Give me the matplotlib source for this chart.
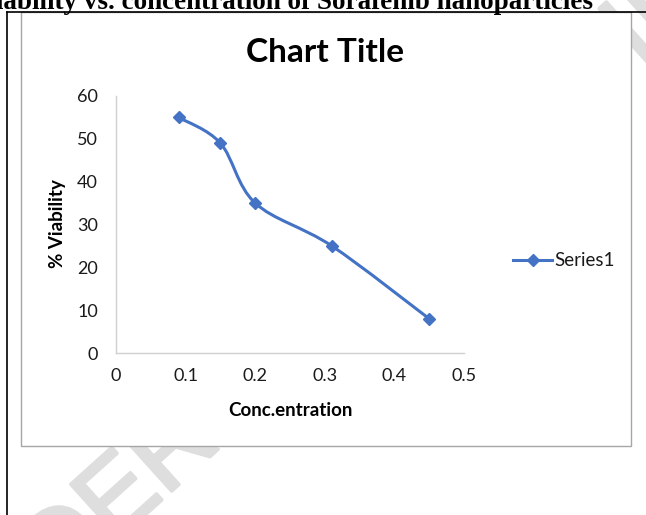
import numpy as np
import matplotlib
matplotlib.use("Agg")
import matplotlib.pyplot as plt
import matplotlib.patheffects as pe
from matplotlib.path import Path
from matplotlib.patches import PathPatch, Rectangle
from matplotlib.lines import Line2D

# data
conc = [0.09, 0.15, 0.20, 0.31, 0.45]
viability = [55, 49, 35, 25, 8]
x_ticks = [0, 0.1, 0.2, 0.3, 0.4, 0.5]
y_ticks = [0, 10, 20, 30, 40, 50, 60]
series_name = "Series1"
chart_title = "Chart Title"
page_caption = "% Viability vs. concentration of Sorafenib nanoparticles"

W, H = 646, 515
blue = "#4472C4"
font = "Lato"


def fx(x):
    return x / W


def fy(y):
    return 1 - y / H


def smooth_path(xs, ys):
    # Excel-like smoothed line: cubic Bezier through each point (Catmull-Rom)
    p = np.column_stack([xs, ys]).astype(float)
    pad = np.vstack([p[0], p, p[-1]])
    verts = [p[0]]
    codes = [Path.MOVETO]
    for i in range(len(p) - 1):
        p0, p1, p2, p3 = pad[i], pad[i + 1], pad[i + 2], pad[i + 3]
        verts += [p1 + (p2 - p0) / 6, p2 - (p3 - p1) / 6, p2]
        codes += [Path.CURVE4] * 3
    return Path(verts, codes)


fig = plt.figure(figsize=(W / 100, H / 100), dpi=100)
fig.patch.set_facecolor("white")

# faint watermark behind the chart box
wm = fig.text(fx(-57), fy(697), "UNDER PEER REVIEW", fontsize=76,
              family="Liberation Sans", color="#dedede", rotation=42,
              rotation_mode="anchor", ha="left", va="baseline", zorder=0.2)
wm.set_path_effects([pe.Stroke(linewidth=2.5, foreground="#dedede"), pe.Normal()])

# page caption, clipped at the top of the crop
fig.text(fx(593), fy(9), page_caption, family="Liberation Serif",
         fontweight="bold", fontsize=19.5, ha="right", va="baseline", zorder=5)

# chart box
fig.patches.append(Rectangle((fx(21), fy(446)), fx(631) - fx(21), fy(12) - fy(446),
                             transform=fig.transFigure, facecolor="white",
                             edgecolor="#a6a6a6", lw=1.0, zorder=1))

# black page frame lines
fig.lines.append(Line2D([fx(7), fx(7)], [fy(12), fy(H + 5)], transform=fig.transFigure,
                        color="black", lw=1.2, zorder=4))
fig.lines.append(Line2D([fx(7), fx(W + 5)], [fy(12), fy(12)], transform=fig.transFigure,
                        color="black", lw=1.2, zorder=4))

ax = fig.add_axes([fx(116), fy(353), fx(464) - fx(116), fy(96) - fy(353)])
ax.set_zorder(3)
ax.patch.set_visible(False)

ax.add_patch(PathPatch(smooth_path(conc, viability), facecolor="none",
                       edgecolor=blue, lw=2.2, capstyle="round", zorder=2))
ax.plot(conc, viability, linestyle="none", marker="D", markersize=6.5,
        color=blue, zorder=3)

ax.set_xlim(0, 0.5)
ax.set_ylim(0, 60)
ax.set_xticks(x_ticks)
ax.set_xticklabels([f"{v:g}" for v in x_ticks])
ax.set_yticks(y_ticks)
ax.tick_params(length=0, labelsize=13, labelcolor="#1a1a1a")
ax.tick_params(axis="y", pad=13)
ax.tick_params(axis="x", pad=11)
for lab in ax.get_xticklabels() + ax.get_yticklabels():
    lab.set_family(font)

for side in ["top", "right"]:
    ax.spines[side].set_visible(False)
for side in ["left", "bottom"]:
    ax.spines[side].set_color("#d0d0d0")
    ax.spines[side].set_linewidth(1.0)

fig.text(fx(325), fy(62), chart_title, family=font, fontweight="bold",
         fontsize=24, ha="center", va="baseline", zorder=5)
fig.text(fx(58), fy(224), "% Viability", family=font, fontweight="bold",
         fontsize=13.5, rotation=90, ha="center", va="center", zorder=5)
fig.text(fx(290), fy(410), "Conc.entration", family=font, fontweight="bold",
         fontsize=13.5, ha="center", va="center", zorder=5)

# legend to the right of the plot
handle = Line2D([], [], color=blue, lw=2.2, marker="D", markersize=6.5)
leg = ax.legend([handle], [series_name], loc="center left",
                bbox_to_anchor=(fx(496), fy(261)), bbox_transform=fig.transFigure,
                frameon=False, handlelength=2.1, handletextpad=0.1,
                prop={"family": font, "size": 13.5})
for t in leg.get_texts():
    t.set_color("#1a1a1a")

fig.savefig("out.png", dpi=100, facecolor="white")
